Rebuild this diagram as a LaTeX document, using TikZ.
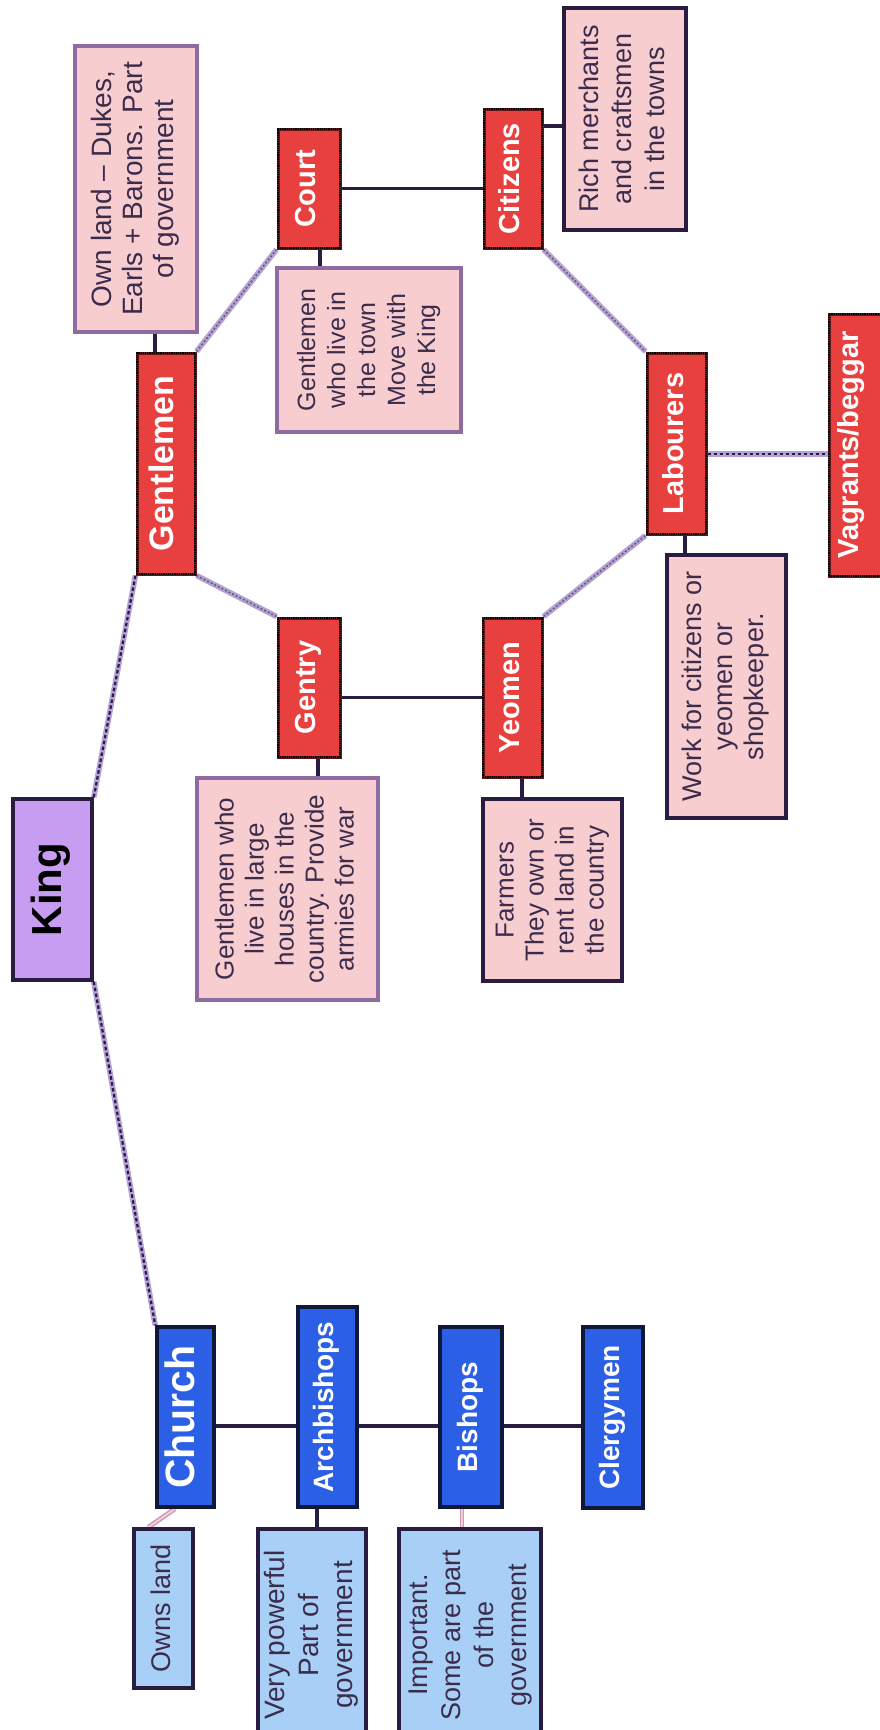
\documentclass[tikz,border=0pt]{standalone}
\usepackage{fontspec}
\setmainfont{Liberation Sans}
\usetikzlibrary{calc,backgrounds}
\pgfdeclarelayer{bottom}
\pgfsetlayers{bottom,background,main}
\definecolor{redfill}{HTML}{E8403E}
\definecolor{redline}{HTML}{5A1818}
\definecolor{pinkfill}{HTML}{F8CDD0}
\definecolor{noteline}{HTML}{8E6CA2}
\definecolor{darkline}{HTML}{2A1C40}
\definecolor{kingfill}{HTML}{C79DF2}
\definecolor{bluefill}{HTML}{2B60E6}
\definecolor{blueline}{HTML}{10183A}
\definecolor{lbluefill}{HTML}{A8CFF6}
\definecolor{lavender}{HTML}{B6A0D8}
\definecolor{notetext}{HTML}{3C2C4C}
\definecolor{pinkline}{HTML}{C89AC0}
\newcommand{\rot}[1]{\rotatebox{90}{\begin{tabular}{@{}c@{}}#1\end{tabular}}}
\tikzset{
  redbox/.style={rectangle, inner sep=0pt, fill=redfill, draw=redline, line width=3pt,
    text=white, font=\bfseries\fontsize{29}{33}\selectfont,
    postaction={draw=black, densely dotted, line width=1.2pt}},
  bluebox/.style={rectangle, inner sep=0pt, fill=bluefill, draw=blueline, line width=3.5pt,
    text=white, font=\bfseries\fontsize{28}{32}\selectfont},
  kingbox/.style={rectangle, inner sep=0pt, fill=kingfill, draw=darkline, line width=3.5pt,
    text=black, font=\bfseries\fontsize{42}{46}\selectfont},
  pnote/.style={rectangle, inner sep=0pt, fill=pinkfill, draw=noteline, line width=4pt,
    text=notetext, font=\fontsize{27}{31}\selectfont},
  pnotedark/.style={pnote, draw=darkline, line width=3.5pt},
  bnote/.style={rectangle, inner sep=0pt, fill=lbluefill, draw=darkline, line width=3.5pt,
    text=notetext, font=\fontsize{27}{33}\selectfont},
  sline/.style={draw=darkline, line width=3.3pt},
  dline/.style={preaction={draw=lavender, line width=5.5pt}, draw=darkline, line width=2.2pt,
    dash pattern=on 3.5pt off 2.5pt},
  lline/.style={preaction={draw=lavender, line width=5.5pt}, draw=gray!70!darkline, line width=1.6pt,
    dash pattern=on 2pt off 2pt},
  pline/.style={draw=pinkline, line width=1.5pt, double=pinkfill, double distance=1.8pt},
}
\begin{document}
\begin{tikzpicture}[x=1pt,y=-1pt]
\begin{pgfonlayer}{bottom}
\fill[white] (0,0) rectangle (880,1730);
\end{pgfonlayer}
\useasboundingbox (0,0) rectangle (880,1730);

% King
\node[kingbox, minimum width=79pt, minimum height=181pt] (king) at (52.5,889.5) {\rot{King}};

% State side
\node[redbox, minimum width=58pt, minimum height=221pt, font=\bfseries\fontsize{34}{38}\selectfont] (gentlemen) at (166,463.5) {\rot{Gentlemen}};
\node[pnote, minimum width=122pt, minimum height=286pt, font=\fontsize{28}{31}\selectfont] (owndesc) at (136,189) {\rot{Own land -- Dukes,\\Earls + Barons. Part\\of government}};
\node[redbox, minimum width=62pt, minimum height=119pt] (court) at (309,188.5) {\rot{Court}};
\node[pnote, minimum width=184pt, minimum height=164pt, font=\fontsize{25}{30}\selectfont] (courtdesc) at (369,350) {\rot{Gentlemen\\who live in\\the town\\Move with\\the King}};
\node[redbox, minimum width=58pt, minimum height=139pt] (citizens) at (513,178.5) {\rot{Citizens}};
\node[pnotedark, minimum width=122pt, minimum height=222pt, font=\fontsize{27}{33}\selectfont] (citdesc) at (625,119) {\rot{Rich merchants\\and craftsmen\\in the towns}};
\node[redbox, minimum width=62pt, minimum height=139pt] (gentry) at (309,687.5) {\rot{Gentry}};
\node[pnote, minimum width=181pt, minimum height=222pt, font=\fontsize{26}{30}\selectfont] (gentrydesc) at (287.5,889) {\rot{Gentlemen who\\live in large\\houses in the\\country. Provide\\armies for war}};
\node[redbox, minimum width=59pt, minimum height=159pt] (yeomen) at (512.5,697.5) {\rot{Yeomen}};
\node[pnotedark, minimum width=139pt, minimum height=182pt, font=\fontsize{26}{30}\selectfont] (yeodesc) at (552.5,890) {\rot{Farmers\\They own or\\rent land in\\the country}};
\node[redbox, minimum width=59pt, minimum height=181pt] (labourers) at (676.5,443.5) {\rot{Labourers}};
\node[pnotedark, minimum width=119pt, minimum height=263pt] (labdesc) at (726.5,686.5) {\rot{Work for citizens or\\yeomen or\\shopkeeper.}};
\node[redbox, minimum width=71pt, minimum height=262pt] (vagrants) at (864.5,445) {};
\node[text=white, font=\bfseries\fontsize{29}{33}\selectfont, inner sep=0pt] (vagtext) at (852,445) {\rot{Vagrants/beggar}};

% Church side
\node[bluebox, minimum width=57pt, minimum height=180pt, font=\bfseries\fontsize{41}{45}\selectfont] (church) at (185.5,1417) {\rot{Church}};
\node[bluebox, minimum width=59pt, minimum height=200pt] (arch) at (327.5,1407) {\rot{Archbishops}};
\node[bluebox, minimum width=62pt, minimum height=180pt] (bishops) at (471,1417) {\rot{Bishops}};
\node[bluebox, minimum width=60pt, minimum height=181pt] (clergy) at (613,1417.5) {\rot{Clergymen}};
\node[bnote, minimum width=59pt, minimum height=159pt] (ownsland) at (163.5,1608.5) {\rot{Owns land}};
\node[bnote, minimum width=108pt, minimum height=212pt, font=\fontsize{28}{34}\selectfont] (archdesc) at (312,1635) {\rot{Very powerful\\Part of\\government}};
\node[bnote, minimum width=142pt, minimum height=212pt] (bishdesc) at (470,1635) {\rot{Important.\\Some are part\\of the\\government}};

\begin{pgfonlayer}{background}
% King links
\draw[dline] (king.north east) -- (gentlemen.south west);
\draw[dline] (king.south east) -- (church.north west);
% Gentlemen group
\draw[sline] ([xshift=-11pt]gentlemen.north) -- ([xshift=-11pt]gentlemen.north |- owndesc.south);
\draw[lline] (gentlemen.north east) -- (court.south west);
\draw[lline] (gentlemen.south east) -- (gentry.north west);
\draw[sline] ([xshift=11pt]court.south) -- ([xshift=11pt]court.south |- courtdesc.north);
\draw[sline] (court.east) -- (court.east -| citizens.west);
\draw[sline] ([yshift=52.5pt]citizens.east) -- ([yshift=52.5pt]citizens.east -| citdesc.west);
\draw[lline] (citizens.south east) -- (labourers.north west);
\draw[sline] (yeomen.west -| gentry.east) -- (yeomen.west);
\draw[sline] ([xshift=9pt]gentry.south) -- ([xshift=9pt]gentry.south |- gentrydesc.north);
\draw[lline] (yeomen.north east) -- (labourers.south west);
\draw[sline] ([xshift=9.5pt]yeomen.south) -- ([xshift=9.5pt]yeomen.south |- yeodesc.north);
\draw[sline] ([xshift=8.5pt]labourers.south) -- ([xshift=8.5pt]labourers.south |- labdesc.north);
\draw[dline] ([yshift=-10.5pt]labourers.east) -- ([yshift=-10.5pt]labourers.east -| vagrants.west);
% Church group
\path ([yshift=-9pt]church.east) coordinate (cl);
\draw[sline] (cl) -- (cl -| arch.west);
\draw[sline] (cl -| arch.east) -- (cl -| bishops.west);
\draw[sline] (cl -| bishops.east) -- (cl -| clergy.west);
\draw[pline] ([xshift=-10.5pt]church.south) -- ([xshift=16pt]ownsland.north west);
\draw[sline] ([xshift=-10.5pt]arch.south) -- ([xshift=-10.5pt]arch.south |- archdesc.north);
\draw[pline] ([xshift=-9pt]bishops.south) -- ([xshift=-9pt]bishops.south |- bishdesc.north);
\end{pgfonlayer}
\end{tikzpicture}
\end{document}
